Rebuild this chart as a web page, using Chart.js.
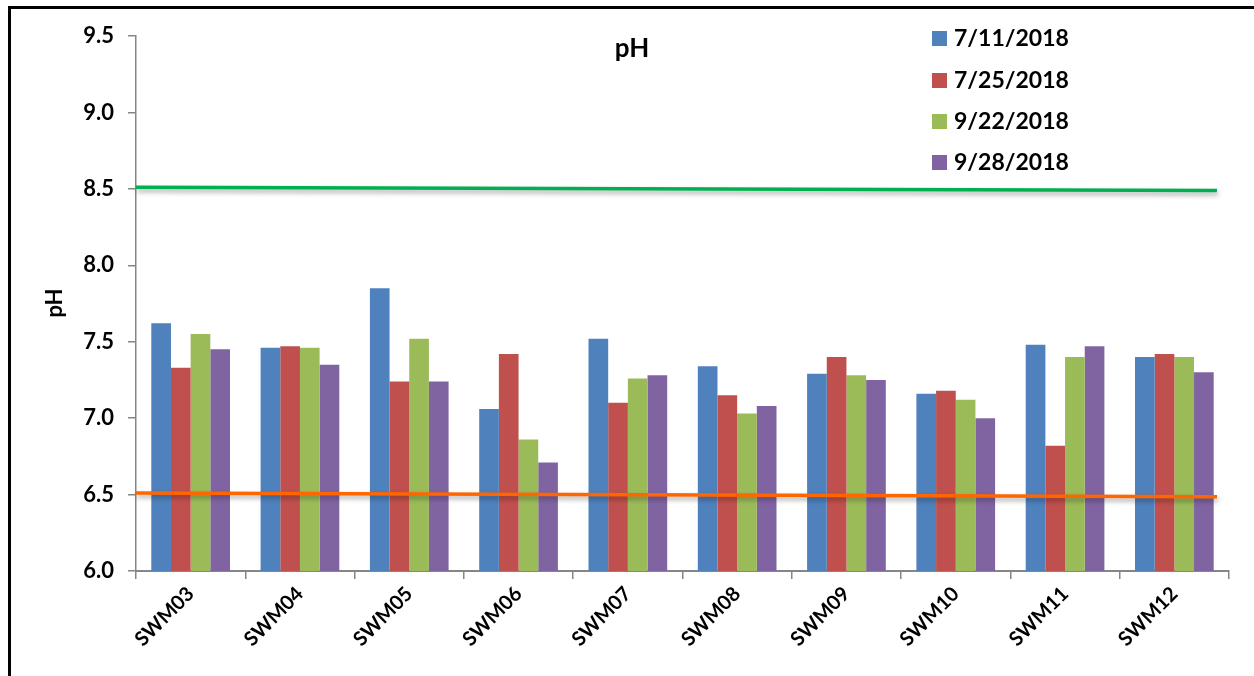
<!DOCTYPE html>
<html>
<head>
<meta charset="utf-8">
<script src="https://cdn.jsdelivr.net/npm/chart.js@4.4.1/dist/chart.umd.min.js"></script>
<style>
  html, body { margin: 0; padding: 0; background: #fff; }
  #wrap { position: relative; width: 1254px; height: 676px; overflow: hidden; }
  canvas { display: block; }
</style>
</head>
<body>
<div id="wrap"><canvas id="c" width="1254" height="676"></canvas></div>
<script>
// Sampling sites
const sites = ['SWM03', 'SWM04', 'SWM05', 'SWM06', 'SWM07', 'SWM08', 'SWM09', 'SWM10', 'SWM11', 'SWM12'];

// pH by sampling date
const dateLabels = ['7/11/2018', '7/25/2018', '9/22/2018', '9/28/2018'];
const ph0711 = [7.62, 7.46, 7.85, 7.06, 7.52, 7.34, 7.29, 7.16, 7.48, 7.40];
const ph0725 = [7.33, 7.47, 7.24, 7.42, 7.10, 7.15, 7.40, 7.18, 6.82, 7.42];
const ph0922 = [7.55, 7.46, 7.52, 6.86, 7.26, 7.03, 7.28, 7.12, 7.40, 7.40];
const ph0928 = [7.45, 7.35, 7.24, 6.71, 7.28, 7.08, 7.25, 7.00, 7.47, 7.30];

// Guideline range: limit lines, start/end position (site index units) and pH values
const limitX = [-0.5, 9.39];
const upperLimit = [8.51, 8.49];
const lowerLimit = [6.51, 6.485];

// Axis ticks
const yTicks = [6.0, 6.5, 7.0, 7.5, 8.0, 8.5, 9.0, 9.5];

const seriesColors = ['#4F81BD', '#C0504D', '#9BBB59', '#8064A2'];
const limitColors = ['#00B050', '#FF6600'];
const FONT = 'Lato, Calibri, Carlito, "Open Sans", sans-serif';
const AXIS_GRAY = '#868686';

const barSeries = [ph0711, ph0725, ph0922, ph0928].map((vals, i) => ({
  label: dateLabels[i],
  data: vals,
  backgroundColor: seriesColors[i],
  borderWidth: 0,
  categoryPercentage: 0.72,
  barPercentage: 1.0
}));

// Limit lines, placed with the hidden numeric 'xl' axis and the pH axis, drawn over the bars
const limitLines = {
  id: 'limitLines',
  afterDatasetsDraw(chart) {
    const ctx = chart.ctx;
    const xs = chart.scales.xl;
    const ys = chart.scales.y;
    [upperLimit, lowerLimit].forEach((vals, k) => {
      ctx.save();
      ctx.shadowColor = 'rgba(0,0,0,0.35)';
      ctx.shadowBlur = 5;
      ctx.shadowOffsetX = 1;
      ctx.shadowOffsetY = 3;
      ctx.strokeStyle = limitColors[k];
      ctx.lineWidth = 3.5;
      ctx.beginPath();
      vals.forEach((v, i) => {
        const px = xs.getPixelForValue(limitX[i]);
        const py = ys.getPixelForValue(v);
        if (i === 0) ctx.moveTo(px, py); else ctx.lineTo(px, py);
      });
      ctx.stroke();
      ctx.restore();
    });
  }
};

// Frame, title, y-axis title and legend
const decorations = {
  id: 'decorations',
  afterDraw(chart) {
    const ctx = chart.ctx;
    ctx.save();
    // outer frame
    ctx.strokeStyle = '#000';
    ctx.lineWidth = 3;
    ctx.strokeRect(9.5, 7.5, 1400, 800);

    // title
    ctx.fillStyle = '#000';
    ctx.font = 'bold 26px ' + FONT;
    ctx.textAlign = 'center';
    ctx.textBaseline = 'middle';
    ctx.fillText('pH', 632, 49);

    // y-axis title
    ctx.save();
    ctx.translate(55, 303);
    ctx.rotate(-Math.PI / 2);
    ctx.font = 'bold 22px ' + FONT;
    ctx.fillText('pH', 0, 0);
    ctx.restore();

    // legend
    ctx.font = 'bold 23px ' + FONT;
    ctx.textAlign = 'left';
    ctx.textBaseline = 'middle';
    const rows = [38, 80, 121, 162];
    chart.data.datasets.forEach((d, i) => {
      ctx.fillStyle = d.backgroundColor;
      ctx.fillRect(932, rows[i] - 7, 15, 15);
      ctx.fillStyle = '#000';
      ctx.fillText(d.label, 954, rows[i] + 1);
    });
    ctx.restore();
  }
};

new Chart(document.getElementById('c'), {
  type: 'bar',
  data: {
    labels: sites,
    datasets: barSeries
  },
  options: {
    responsive: false,
    animation: false,
    devicePixelRatio: 1,
    layout: { padding: { left: 0, top: 36, right: 25, bottom: 0 } },
    plugins: {
      legend: { display: false },
      tooltip: { enabled: false },
      title: { display: false }
    },
    scales: {
      x: {
        type: 'category',
        offset: true,
        grid: {
          offset: true,
          drawOnChartArea: false,
          drawTicks: true,
          tickLength: 8,
          color: AXIS_GRAY,
          lineWidth: 1.5
        },
        border: { display: true, color: AXIS_GRAY, width: 2 },
        ticks: {
          minRotation: 45,
          maxRotation: 45,
          autoSkip: false,
          padding: 3,
          color: '#000',
          font: { family: FONT, size: 20, weight: 'bold' }
        },
        afterFit(scale) { scale.height = 105; }
      },
      xl: {
        type: 'linear',
        position: 'bottom',
        display: false,
        offset: false,
        min: -0.5,
        max: sites.length - 0.5
      },
      y: {
        type: 'linear',
        min: 6.0,
        max: 9.5,
        beginAtZero: false,
        afterBuildTicks(scale) { scale.ticks = yTicks.map(v => ({ value: v })); },
        grid: {
          drawOnChartArea: false,
          drawTicks: true,
          tickLength: 8,
          color: AXIS_GRAY,
          lineWidth: 1.5
        },
        border: { display: true, color: AXIS_GRAY, width: 1.5 },
        ticks: {
          padding: 14,
          color: '#000',
          font: { family: FONT, size: 22, weight: 'bold' },
          callback: v => Number(v).toFixed(1)
        },
        afterFit(scale) { scale.width = 136; }
      }
    }
  },
  plugins: [limitLines, decorations]
});
</script>
</body>
</html>
